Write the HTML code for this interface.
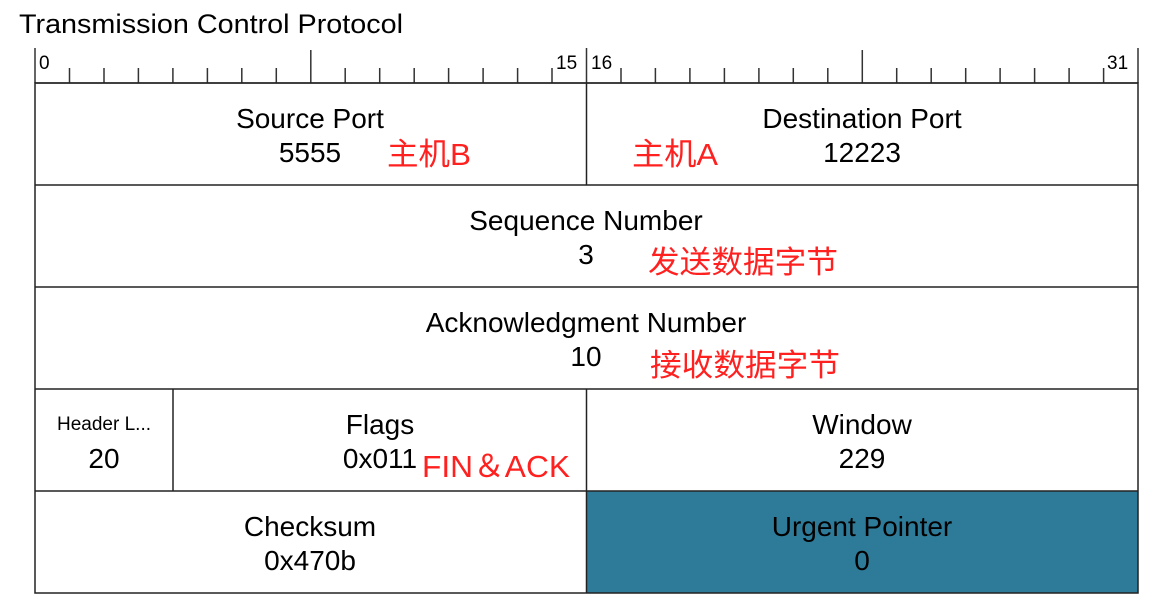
<!DOCTYPE html>
<html><head><meta charset="utf-8"><style>
html,body{margin:0;padding:0;background:#fff;}
svg{display:block;}
text{font-family:"Liberation Sans","Noto Sans CJK SC",sans-serif;}
</style></head><body>
<svg width="1159" height="610" viewBox="0 0 1159 610" xmlns="http://www.w3.org/2000/svg">
<text x="19" y="33" font-size="27" fill="#000" textLength="384" lengthAdjust="spacingAndGlyphs">Transmission Control Protocol</text>
<g stroke="#333" stroke-width="1.5">
<line x1="35" y1="83" x2="1138" y2="83"/>
<line x1="35" y1="48" x2="35" y2="83"/>
<line x1="586.5" y1="48" x2="586.5" y2="83"/>
<line x1="1138" y1="48" x2="1138" y2="83"/>
<line x1="310.8" y1="50" x2="310.8" y2="83"/>
<line x1="862.3" y1="50" x2="862.3" y2="83"/>
<path d="M69.5 68V83M104 68V83M138.4 68V83M172.9 68V83M207.4 68V83M241.8 68V83M276.3 68V83M345.2 68V83M379.7 68V83M414.2 68V83M448.6 68V83M483.1 68V83M517.6 68V83M552 68V83M621 68V83M655.4 68V83M689.9 68V83M724.4 68V83M758.9 68V83M793.3 68V83M827.8 68V83M896.7 68V83M931.2 68V83M965.7 68V83M1000.1 68V83M1034.6 68V83M1069.1 68V83M1103.6 68V83"/>
</g>
<g font-size="19" fill="#000">
<text x="39" y="69">0</text>
<text x="556" y="69">15</text>
<text x="591" y="69">16</text>
<text x="1107" y="69">31</text>
</g>
<rect x="586.5" y="491" width="551.5" height="102" fill="#2e7b99"/>
<g stroke="#222" stroke-width="1.5" fill="none">
<rect x="35" y="83" width="1103" height="510"/>
<line x1="35" y1="185" x2="1138" y2="185"/>
<line x1="35" y1="287" x2="1138" y2="287"/>
<line x1="35" y1="389" x2="1138" y2="389"/>
<line x1="35" y1="491" x2="1138" y2="491"/>
<line x1="586.5" y1="83" x2="586.5" y2="185"/>
<line x1="586.5" y1="389" x2="586.5" y2="593"/>
<line x1="173" y1="389" x2="173" y2="491"/>
</g>
<g font-size="28" fill="#000" text-anchor="middle">
<text x="310" y="128">Source Port</text>
<text x="310" y="162">5555</text>
<text x="862" y="128">Destination Port</text>
<text x="862" y="162">12223</text>
<text x="586" y="230">Sequence Number</text>
<text x="586" y="264">3</text>
<text x="586" y="332">Acknowledgment Number</text>
<text x="586" y="366">10</text>
<text x="380" y="434">Flags</text>
<text x="380" y="468">0x011</text>
<text x="862" y="434">Window</text>
<text x="862" y="468">229</text>
<text x="104" y="468">20</text>
<text x="310" y="536">Checksum</text>
<text x="310" y="570">0x470b</text>
<text x="862" y="536">Urgent Pointer</text>
<text x="862" y="570">0</text>
</g>
<text x="104" y="430" font-size="19" text-anchor="middle" fill="#000">Header L...</text>
<g font-size="31" fill="#ff2020">
<text x="387" y="165" textLength="84" lengthAdjust="spacingAndGlyphs">主机B</text>
<text x="632" y="165" textLength="86" lengthAdjust="spacingAndGlyphs">主机A</text>
<text x="648" y="273" textLength="190" lengthAdjust="spacingAndGlyphs">发送数据字节</text>
<text x="650" y="376" textLength="190" lengthAdjust="spacingAndGlyphs">接收数据字节</text>
<text x="422" y="477" textLength="148" lengthAdjust="spacingAndGlyphs">FIN＆ACK</text>
</g>
</svg>
</body></html>
